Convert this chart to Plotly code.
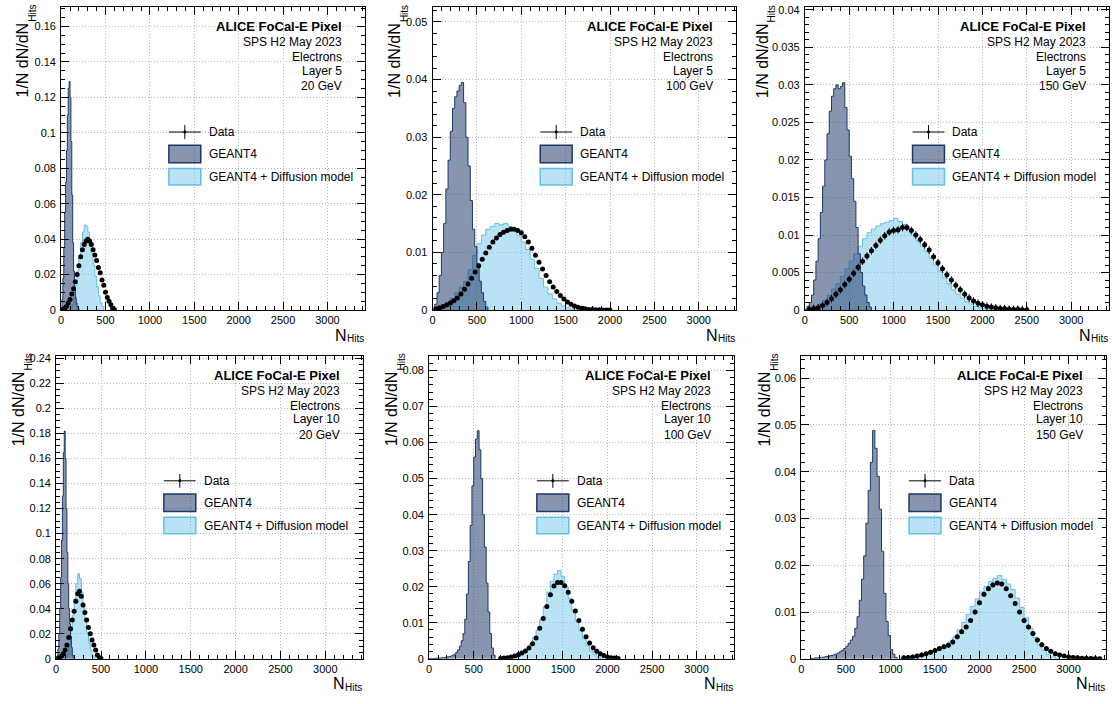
import plotly.graph_objects as go

W, H = 1112, 704
X_RANGE = [0, 3420]

# ---------------- data ----------------
# Histograms: [first bin low edge, bin width] and bin contents (1/N dN/dN_Hits)
# Layer 5, 20 GeV
g4_l5_20_bin = [0, 10]
g4_l5_20 = [0.001, 0.006, 0.018, 0.035, 0.055, 0.072, 0.09, 0.11, 0.125, 0.129,
            0.12, 0.095, 0.065, 0.038, 0.022, 0.013, 0.007, 0.004, 0.002, 0.001]
df_l5_20_bin = [100, 20]
df_l5_20 = [0.001, 0.003, 0.007, 0.014, 0.022, 0.030, 0.038, 0.044, 0.048, 0.047,
            0.044, 0.039, 0.032, 0.025, 0.019, 0.013, 0.008, 0.004, 0.002]
data_l5_20_bin = [20, 20]
data_l5_20 = [0.0005, 0.001, 0.002, 0.004, 0.006, 0.009, 0.012, 0.016, 0.020, 0.025,
              0.030, 0.034, 0.037, 0.039, 0.040, 0.039, 0.037, 0.034, 0.031, 0.028,
              0.024, 0.021, 0.017, 0.014, 0.010, 0.007, 0.005, 0.003, 0.001, 0.0003]

# Layer 5, 100 GeV
g4_l5_100_bin = [0, 25]
g4_l5_100 = [0.0003, 0.001, 0.003, 0.006, 0.010, 0.015, 0.021, 0.026, 0.031, 0.035,
             0.037, 0.038, 0.039, 0.0395, 0.036, 0.030, 0.025, 0.019, 0.014, 0.011,
             0.008, 0.005, 0.003, 0.0015, 0.0005]
df_l5_100_bin = [100, 50]
df_l5_100 = [0.0005, 0.001, 0.002, 0.003, 0.004, 0.005, 0.007, 0.0095, 0.0115, 0.013,
             0.014, 0.0145, 0.015, 0.0148, 0.015, 0.0145, 0.0138, 0.013, 0.0118, 0.0105,
             0.0088, 0.0072, 0.0055, 0.0040, 0.0028, 0.0019, 0.0012, 0.0007, 0.0004, 0.0002]
data_l5_100_bin = [40, 40]
data_l5_100 = [0.0002, 0.0004, 0.0006, 0.0009, 0.0012, 0.0016, 0.0021, 0.0028, 0.0036, 0.0045,
               0.0055, 0.0066, 0.0077, 0.0088, 0.0099, 0.0109, 0.0118, 0.0125, 0.0131, 0.0135,
               0.0138, 0.0140, 0.0140, 0.0138, 0.0134, 0.0127, 0.0118, 0.0107, 0.0095, 0.0083,
               0.0071, 0.0060, 0.0049, 0.0040, 0.0032, 0.0025, 0.0019, 0.0014, 0.0010, 0.0007,
               0.0005, 0.0003, 0.0002, 0.0001, 0.0001, 0.00005, 0.00003, 0.00002, 0.00001, 0.0]

# Layer 5, 150 GeV
g4_l5_150_bin = [0, 25]
g4_l5_150 = [0.0001, 0.0005, 0.001, 0.002, 0.004, 0.0065, 0.0095, 0.013, 0.0165, 0.020,
             0.0235, 0.0265, 0.0285, 0.0295, 0.030, 0.0295, 0.0298, 0.0303, 0.027, 0.024,
             0.0205, 0.0175, 0.0145, 0.011, 0.0075, 0.005, 0.0032, 0.002, 0.001, 0.0004]
df_l5_150_bin = [100, 50]
df_l5_150 = [0.0004, 0.0008, 0.0013, 0.002, 0.0028, 0.0035, 0.0045, 0.0055, 0.0065, 0.0075,
             0.0085, 0.0095, 0.0103, 0.0108, 0.0112, 0.0115, 0.0117, 0.0119, 0.0122, 0.0118,
             0.0114, 0.0108, 0.0100, 0.0093, 0.0085, 0.0078, 0.0069, 0.0060, 0.0052, 0.0043,
             0.0035, 0.0027, 0.0021, 0.0016, 0.0011, 0.0008, 0.0005, 0.0003, 0.0002, 0.0001,
             0.00005]
data_l5_150_bin = [50, 50]
data_l5_150 = [0.0001, 0.0002, 0.0003, 0.0006, 0.0010, 0.0015, 0.0021, 0.0027, 0.0034, 0.0041,
               0.0049, 0.0057, 0.0065, 0.0072, 0.0079, 0.0086, 0.0093, 0.0099, 0.0104, 0.0106,
               0.0107, 0.0110, 0.0110, 0.0106, 0.0100, 0.0094, 0.0087, 0.0080, 0.0071, 0.0063,
               0.0055, 0.0047, 0.0040, 0.0033, 0.0027, 0.0021, 0.0016, 0.0012, 0.0009, 0.0007,
               0.0005, 0.0004, 0.0003, 0.0002, 0.0002, 0.0001, 0.0001, 0.0001, 0.00005, 0.00003]

# Layer 10, 20 GeV
g4_l10_20_bin = [0, 10]
g4_l10_20 = [0.0, 0.002, 0.008, 0.02, 0.04, 0.065, 0.095, 0.13, 0.165, 0.182,
             0.16, 0.12, 0.085, 0.06, 0.04, 0.028, 0.018, 0.009, 0.003]
df_l10_20_bin = [100, 20]
df_l10_20 = [0.001, 0.004, 0.011, 0.022, 0.035, 0.048, 0.060, 0.068, 0.064, 0.053,
             0.041, 0.030, 0.021, 0.013, 0.007, 0.003, 0.001]
data_l10_20_bin = [20, 20]
data_l10_20 = [0.0005, 0.001, 0.002, 0.004, 0.007, 0.011, 0.017, 0.024, 0.031, 0.038,
               0.046, 0.052, 0.054, 0.050, 0.043, 0.037, 0.031, 0.025, 0.020, 0.015,
               0.011, 0.007, 0.003, 0.001, 0.0002]

# Layer 10, 100 GeV
g4_l10_100_bin = [0, 20]
g4_l10_100 = [0.0001, 0.0001, 0.0001, 0.0001, 0.0002, 0.0002, 0.0002, 0.0003, 0.0003, 0.0004,
              0.0005, 0.0006, 0.0008, 0.001, 0.0013, 0.0018, 0.0025, 0.0035, 0.005, 0.007,
              0.011, 0.018, 0.027, 0.037, 0.048, 0.056, 0.061, 0.0633, 0.058, 0.050,
              0.040, 0.031, 0.021, 0.013, 0.007, 0.003, 0.001]
df_l10_100_bin = [800, 40]
df_l10_100 = [0.0001, 0.0002, 0.0003, 0.0005, 0.0008, 0.0012, 0.0018, 0.0027, 0.004, 0.0058,
              0.008, 0.011, 0.0145, 0.0185, 0.0215, 0.0235, 0.0245, 0.0228, 0.0200, 0.0168,
              0.0135, 0.0105, 0.0078, 0.0055, 0.0036, 0.0022, 0.0012, 0.0006, 0.0002]
data_l10_100_bin = [800, 40]
data_l10_100 = [0.0001, 0.0002, 0.0003, 0.0005, 0.0008, 0.0011, 0.0016, 0.0022, 0.003, 0.0042,
                0.0058, 0.0085, 0.0112, 0.0145, 0.0178, 0.0202, 0.0212, 0.0212, 0.0203, 0.0185,
                0.0160, 0.0133, 0.0106, 0.0082, 0.0061, 0.0044, 0.0031, 0.0021, 0.0014, 0.0009,
                0.0005, 0.0003, 0.0002, 0.0001]

# Layer 10, 150 GeV
g4_l10_150_bin = [100, 25]
g4_l10_150 = [0.0001, 0.0001, 0.0002, 0.0002, 0.0003, 0.0003, 0.0004, 0.0005, 0.0006, 0.0007,
              0.0008, 0.001, 0.0012, 0.0015, 0.0018, 0.0022, 0.0027, 0.0033, 0.004, 0.0048,
              0.0065, 0.009, 0.0125, 0.017, 0.022, 0.029, 0.036, 0.042, 0.0488, 0.045,
              0.039, 0.032, 0.023, 0.014, 0.008, 0.005, 0.002, 0.001, 0.0003]
df_l10_150_bin = [1100, 50]
df_l10_150 = [0.0001, 0.0002, 0.0003, 0.0005, 0.0007, 0.0009, 0.0011, 0.0014, 0.0018, 0.0022,
              0.0028, 0.0036, 0.0047, 0.0062, 0.0078, 0.0095, 0.0112, 0.0128, 0.0143, 0.0155,
              0.0165, 0.0172, 0.0178, 0.0170, 0.0160, 0.0148, 0.0130, 0.0110, 0.0088, 0.0066,
              0.0046, 0.0030, 0.0018, 0.0009, 0.0004, 0.0001]
data_l10_150_bin = [1150, 50]
data_l10_150 = [0.0002, 0.0003, 0.0004, 0.0006, 0.0008, 0.0011, 0.0014, 0.0018, 0.0022, 0.0026,
                0.0029, 0.0036, 0.0047, 0.0058, 0.0068, 0.0082, 0.0100, 0.0120, 0.0138, 0.0150,
                0.0158, 0.0162, 0.0160, 0.0150, 0.0135, 0.0118, 0.0100, 0.0082, 0.0068, 0.0054,
                0.0040, 0.0030, 0.0022, 0.0016, 0.0011, 0.0008, 0.0006, 0.0004, 0.0003, 0.0002,
                0.0001, 0.0001, 0.00005, 0.00005, 0.00003]

data_err = [0.0002, 0.0002, 0.0005, 0.0003, 0.0002, 0.0005]

energies = ["20 GeV", "100 GeV", "150 GeV", "20 GeV", "100 GeV", "150 GeV"]
layers = ["Layer 5", "Layer 5", "Layer 5", "Layer 10", "Layer 10", "Layer 10"]
y_max = [0.171, 0.0526, 0.0404, 0.2421, 0.0841, 0.0648]
y_dtick = [0.02, 0.01, 0.005, 0.02, 0.01, 0.01]
y_minor = [0.005, 0.002, 0.001, 0.005, 0.002, 0.002]
x_dtick, x_minor = 500, 100

legend_labels = ["Data", "GEANT4", "GEANT4 + Diffusion model"]
header = ["ALICE FoCal-E Pixel", "SPS H2 May 2023", "Electrons"]
ytitle_main, ytitle_sub = "1/N dN/dN", "Hits"
xtitle_main, xtitle_sub = "N", "Hits"

panels = [
    (g4_l5_20_bin, g4_l5_20, df_l5_20_bin, df_l5_20, data_l5_20_bin, data_l5_20),
    (g4_l5_100_bin, g4_l5_100, df_l5_100_bin, df_l5_100, data_l5_100_bin, data_l5_100),
    (g4_l5_150_bin, g4_l5_150, df_l5_150_bin, df_l5_150, data_l5_150_bin, data_l5_150),
    (g4_l10_20_bin, g4_l10_20, df_l10_20_bin, df_l10_20, data_l10_20_bin, data_l10_20),
    (g4_l10_100_bin, g4_l10_100, df_l10_100_bin, df_l10_100, data_l10_100_bin, data_l10_100),
    (g4_l10_150_bin, g4_l10_150, df_l10_150_bin, df_l10_150, data_l10_150_bin, data_l10_150),
]

# ---------------- layout / styling ----------------
FONT = "Liberation Sans, Arial, Helvetica, sans-serif"
G4_LINE = "#1f3768"
G4_FILL = "rgba(31,55,104,0.53)"
DF_LINE = "#62bfe9"
DF_FILL = "rgba(100,190,230,0.45)"

# frames in pixels: left, top, right, bottom
frames = [(58.3, 4, 362.7, 311), (430.7, 4, 735, 311), (804, 4, 1108.5, 311),
          (53.3, 357.3, 361, 664.3), (427.3, 357.3, 733, 664.3), (800.5, 357.3, 1106, 664.3)]
ytitle_off = [39, 38, 43, 38, 38, 37]


def pxx(x):
    return x / W


def pxy(y):
    return 1 - y / H


def step_xy(bin_def, vals):
    lo, w = bin_def
    xs = [lo]
    ys = [0]
    for i, v in enumerate(vals):
        xs.append(lo + i * w)
        ys.append(v)
    xs.append(lo + len(vals) * w)
    ys.append(0)
    return xs, ys


def text(txt, x, y, size, xanchor, yanchor, angle=0):
    return dict(text=txt, x=pxx(x), y=pxy(y), xref="paper", yref="paper",
                xanchor=xanchor, yanchor=yanchor, textangle=angle, showarrow=False,
                font=dict(family=FONT, size=size, color="black"))


fig = go.Figure()
shapes = []
annotations = []

for i, (g4b, g4v, dfb, dfv, dab, dav) in enumerate(panels):
    n = "" if i == 0 else str(i + 1)
    xa, ya = "x" + n, "y" + n
    L, T, R, B = frames[i]

    xs, ys = step_xy(dfb, dfv)
    fig.add_trace(go.Scatter(x=xs, y=ys, xaxis=xa, yaxis=ya, mode="lines",
                             line=dict(color=DF_LINE, width=1, shape="hv"),
                             fill="tozeroy", fillcolor=DF_FILL, showlegend=False,
                             hoverinfo="skip"))
    xs, ys = step_xy(g4b, g4v)
    fig.add_trace(go.Scatter(x=xs, y=ys, xaxis=xa, yaxis=ya, mode="lines",
                             line=dict(color=G4_LINE, width=1, shape="hv"),
                             fill="tozeroy", fillcolor=G4_FILL, showlegend=False,
                             hoverinfo="skip"))
    lo, w = dab
    dx = [lo + k * w for k in range(len(dav))]
    fig.add_trace(go.Scatter(x=dx, y=dav, xaxis=xa, yaxis=ya, mode="markers",
                             marker=dict(color="black", size=5),
                             error_y=dict(type="constant", value=data_err[i], width=0,
                                          thickness=1, color="black"),
                             error_x=dict(type="constant", value=w / 2, width=0,
                                          thickness=1, color="black"),
                             showlegend=False))

    axis_common = dict(showline=True, linecolor="black", linewidth=1, mirror="ticks",
                       ticks="inside", ticklen=8, tickcolor="black", tickwidth=1,
                       showgrid=True, gridcolor="#b8b8b8", griddash="1px,2px", gridwidth=1,
                       zeroline=False, tickfont=dict(family=FONT, size=11, color="black"))
    fig.layout["xaxis" + n] = dict(
        axis_common, domain=[pxx(L), pxx(R)], range=X_RANGE, anchor=ya,
        tick0=0, dtick=x_dtick,
        minor=dict(dtick=x_minor, tick0=0, ticks="inside", ticklen=4, tickcolor="black",
                   showgrid=False))
    fig.layout["yaxis" + n] = dict(
        axis_common, domain=[pxy(B), pxy(T)], range=[0, y_max[i]], anchor=xa,
        tick0=0, dtick=y_dtick[i], ticklabelstandoff=2,
        minor=dict(dtick=y_minor[i], tick0=0, ticks="inside", ticklen=4, tickcolor="black",
                   showgrid=False))

    # axis titles (main text + subscript drawn as separate texts)
    yx = L - ytitle_off[i]
    annotations.append(text(ytitle_sub, yx + 10, T - 4, 10, "center", "top", -90))
    annotations.append(text(ytitle_main, yx, T + 14, 16, "center", "top", -90))
    annotations.append(text(xtitle_sub, R + 1, B + 29, 10, "right", "middle"))
    annotations.append(text(xtitle_main, R - 16, B + 25.5, 16, "right", "middle"))

    # header texts
    lines = header + [layers[i], energies[i]]
    offs = [20, 36, 51, 64.5, 80]
    for j, (txt, oy) in enumerate(zip(lines, offs)):
        annotations.append(text(("<b>%s</b>" % txt) if j == 0 else txt, R - 21, T + oy,
                                13 if j == 0 else 12, "right", "middle"))

    # legend (drawn)
    bx0, bx1 = L + 108, L + 140
    yd = T + 126.7
    shapes.append(dict(type="line", xref="paper", yref="paper", x0=pxx(bx0), x1=pxx(bx1),
                       y0=pxy(yd), y1=pxy(yd), line=dict(color="black", width=1)))
    shapes.append(dict(type="line", xref="paper", yref="paper", x0=pxx(bx0 + 16),
                       x1=pxx(bx0 + 16), y0=pxy(yd - 7), y1=pxy(yd + 7),
                       line=dict(color="black", width=1)))
    shapes.append(dict(type="circle", xref="paper", yref="paper", x0=pxx(bx0 + 14.5),
                       x1=pxx(bx0 + 17.5), y0=pxy(yd - 1.5), y1=pxy(yd + 1.5),
                       fillcolor="black", line=dict(color="black", width=0)))
    shapes.append(dict(type="rect", xref="paper", yref="paper", x0=pxx(bx0), x1=pxx(bx1),
                       y0=pxy(T + 140), y1=pxy(T + 157.7), fillcolor=G4_FILL,
                       line=dict(color=G4_LINE, width=1.5)))
    shapes.append(dict(type="rect", xref="paper", yref="paper", x0=pxx(bx0), x1=pxx(bx1),
                       y0=pxy(T + 163.7), y1=pxy(T + 180.3), fillcolor=DF_FILL,
                       line=dict(color=DF_LINE, width=1.5)))
    for txt, oy in zip(legend_labels, [126.7, 149.3, 172.5]):
        annotations.append(text(txt, L + 146, T + oy, 12, "left", "middle"))

fig.update_layout(width=W, height=H, margin=dict(l=0, r=0, t=0, b=0),
                  paper_bgcolor="white", plot_bgcolor="white",
                  shapes=shapes, annotations=annotations, showlegend=False)
fig.write_html("out.html")
